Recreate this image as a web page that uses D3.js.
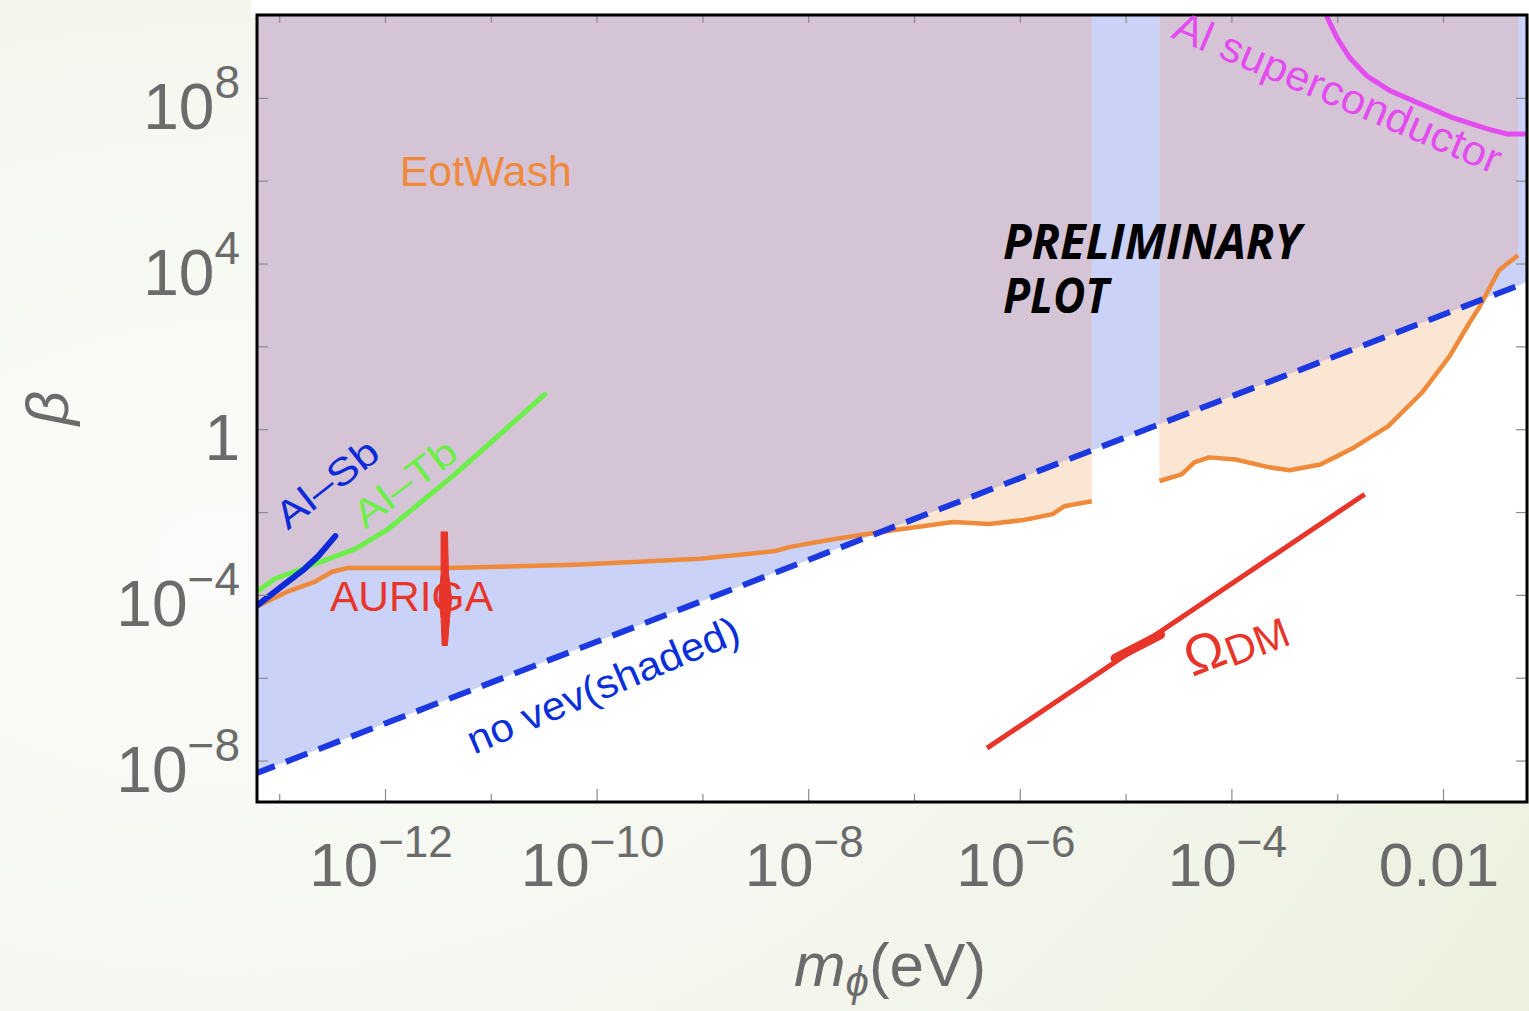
<!DOCTYPE html>
<html><head><meta charset="utf-8">
<script src="https://cdn.jsdelivr.net/npm/d3@7"></script>
<style>
body{margin:0;overflow:hidden;background:#f4f6ee}
text{font-family:"Liberation Sans",Arial,Helvetica,sans-serif}
</style>
</head><body>
<svg id="c" width="1529" height="1011"></svg>
<script>
// ---------- data (log10 of m_phi [eV], log10 of beta) ----------
const xDomainExp = [-13.21, -1.206];
const yDomainExp = [-9, 10];

const xTickExps   = [-13,-12,-11,-10,-9,-8,-7,-6,-5,-4,-3,-2];
const xLabelExps  = [-12,-10,-8,-6,-4,-2];
const xLabelBases = ["10","10","10","10","10","0.01"];
const xLabelSups  = ["\u221212","\u221210","\u22128","\u22126","\u22124",""];

const yTickExps   = [-8,-6,-4,-2,0,2,4,6,8];
const yLabelExps  = [8,4,0,-4,-8];
const yLabelBases = ["10","10","1","10","10"];
const yLabelSups  = ["8","4","","\u22124","\u22128"];

// "no vev" line (dashed)
const noVevLine = [[-13.21,-8.30],[-1.206,3.55]];

// EotWash boundary, two pieces
const eotWashLeft = [
  [-13.21,-4.28],[-12.92,-3.92],[-12.66,-3.68],[-12.50,-3.44],[-12.35,-3.35],
  [-11.39,-3.35],[-10.20,-3.27],[-9.02,-3.13],[-8.31,-2.94],[-8.17,-2.84],
  [-7.79,-2.67],[-7.32,-2.48],[-6.97,-2.36],[-6.63,-2.24],[-6.29,-2.29],
  [-5.96,-2.19],[-5.69,-2.05],[-5.58,-1.86],[-5.32,-1.74]
];
const eotWashRight = [
  [-4.68,-1.25],[-4.47,-1.09],[-4.35,-0.80],[-4.21,-0.68],[-3.96,-0.73],
  [-3.64,-0.92],[-3.45,-0.99],[-3.16,-0.85],[-3.00,-0.65],[-2.84,-0.44],
  [-2.52,0.07],[-2.20,0.88],[-1.94,1.75],[-1.75,2.57],[-1.66,2.93],
  [-1.57,3.36],[-1.47,3.84],[-1.29,4.20]
];

const alSb = [[-13.21,-4.26],[-12.97,-3.78],[-12.76,-3.37],[-12.63,-3.06],[-12.47,-2.58]];
const alTb = [[-13.21,-3.92],[-13.04,-3.61],[-12.73,-3.32],[-12.28,-2.89],[-11.97,-2.41],[-11.34,-1.09],[-10.49,0.84]];

const alSuper = [[-3.11,10.1],[-3.09,9.92],[-3.00,9.44],[-2.88,8.96],[-2.72,8.53],[-2.50,8.17],
  [-2.22,7.86],[-1.91,7.52],[-1.58,7.25],[-1.40,7.13],[-1.21,7.13]];

// AURIGA resonance outline
const auriga = [[-11.47,-2.48],[-11.41,-2.48],[-11.40,-3.49],[-11.37,-4.09],[-11.39,-4.57],
  [-11.41,-5.22],[-11.46,-5.22],[-11.47,-4.57],[-11.49,-4.09],[-11.47,-3.49]];

const omegaDM = [[-6.31,-7.70],[-2.74,-1.57]];
const omegaDMThick = [[-5.10,-5.53],[-4.67,-4.96]];

// ---------- layout ----------
const W = 1529, H = 1011;
const L = 257, R = 1527, T = 15, B = 802;

const svg = d3.select("#c");
const x = d3.scaleLog().domain(xDomainExp.map(e=>10**e)).range([L,R]);
const y = d3.scaleLog().domain(yDomainExp.map(e=>10**e)).range([B,T]);
const px = d => x(10**d[0]), py = d => y(10**d[1]);

const defs = svg.append("defs");
const rg = defs.append("radialGradient").attr("id","bg")
  .attr("cx","0.15").attr("cy","0.55").attr("r","1.0");
rg.append("stop").attr("offset","0").attr("stop-color","#fbfcf9");
rg.append("stop").attr("offset","0.55").attr("stop-color","#f4f6ee");
rg.append("stop").attr("offset","1").attr("stop-color","#ebf0dc");

svg.append("rect").attr("width",W).attr("height",H).attr("fill","url(#bg)");
svg.append("rect").attr("x",251).attr("y",0).attr("width",W-251).attr("height",T+2).attr("fill","#ffffff");

defs.append("clipPath").attr("id","plotClip").append("rect")
  .attr("x",L).attr("y",T).attr("width",R-L).attr("height",B-T);

const areaTop = d3.area().x(px).y0(T-5).y1(py);
const line = d3.line().x(px).y(py);

defs.append("clipPath").attr("id","blueClip").append("path").attr("d", areaTop(noVevLine));

const g = svg.append("g").attr("clip-path","url(#plotClip)");
g.append("rect").attr("x",L).attr("y",T).attr("width",R-L).attr("height",B-T).attr("fill","#ffffff");

// regions
g.append("path").attr("d", areaTop(noVevLine)).attr("fill","#cad2f8");
[eotWashLeft, eotWashRight].forEach(s=>{
  g.append("path").attr("d", areaTop(s)).attr("fill","#fbe5d3");
});
const gp = g.append("g").attr("clip-path","url(#blueClip)");
[eotWashLeft, eotWashRight].forEach(s=>{
  gp.append("path").attr("d", areaTop(s)).attr("fill","#d4c4d6");
});

// curves
[eotWashLeft, eotWashRight].forEach(s=>{
  g.append("path").attr("d", line(s)).attr("fill","none").attr("stroke","#ee8a3a")
    .attr("stroke-width",4.5).attr("stroke-linejoin","round");
});
g.append("path").attr("d", line(noVevLine)).attr("fill","none").attr("stroke","#1c38e0")
  .attr("stroke-width",6).attr("stroke-dasharray","23,12").attr("stroke-dashoffset",4);
g.append("path").attr("d", line(alTb)).attr("fill","none").attr("stroke","#6cef48")
  .attr("stroke-width",5).attr("stroke-linecap","round").attr("stroke-linejoin","round");
g.append("path").attr("d", line(alSb)).attr("fill","none").attr("stroke","#0c2bd6")
  .attr("stroke-width",6).attr("stroke-linecap","round").attr("stroke-linejoin","round");
g.append("path").attr("d", line(alSuper)).attr("fill","none").attr("stroke","#e44cf0")
  .attr("stroke-width",5).attr("stroke-linejoin","round");
g.append("path").attr("d", line(auriga)+"Z").attr("fill","#e8352a").attr("stroke","#e8352a").attr("stroke-width",1);
g.append("path").attr("d", line(omegaDM)).attr("fill","none").attr("stroke","#e8352a").attr("stroke-width",5);
g.append("path").attr("d", line(omegaDMThick)).attr("fill","none").attr("stroke","#e8352a")
  .attr("stroke-width",9).attr("stroke-linecap","round");

// axes (ticks inside)
const tickCol = "#8a8a8a";
function styleAxis(sel){
  sel.select(".domain").remove();
  sel.selectAll(".tick line").attr("stroke",tickCol).attr("stroke-width",1.2);
}
const xb = svg.append("g").attr("transform",`translate(0,${B})`)
  .call(d3.axisBottom(x).tickValues(xTickExps.map(e=>10**e)).tickFormat("").tickSizeOuter(0));
styleAxis(xb);
xb.selectAll(".tick line").attr("y2", d => xLabelExps.includes(Math.round(Math.log10(d))) ? -13 : -8);
const xt = svg.append("g").attr("transform",`translate(0,${T})`)
  .call(d3.axisTop(x).tickValues(xTickExps.map(e=>10**e)).tickFormat("").tickSizeOuter(0));
styleAxis(xt);
xt.selectAll(".tick line").attr("y2", 8);
const yl = svg.append("g").attr("transform",`translate(${L},0)`)
  .call(d3.axisLeft(y).tickValues(yTickExps.map(e=>10**e)).tickFormat("").tickSizeOuter(0));
styleAxis(yl);
yl.selectAll(".tick line").attr("x2", 11);
const yr = svg.append("g").attr("transform",`translate(${R},0)`)
  .call(d3.axisRight(y).tickValues(yTickExps.map(e=>10**e)).tickFormat("").tickSizeOuter(0));
styleAxis(yr);
yr.selectAll(".tick line").attr("x2", -11);

// frame
svg.append("rect").attr("x",L).attr("y",T).attr("width",R-L).attr("height",B-T)
  .attr("fill","none").attr("stroke","#000").attr("stroke-width",3);

// tick labels
const labCol = "#6b6b6b";
xLabelExps.forEach((e,i)=>{
  const t = svg.append("text").attr("x", x(10**e)-4).attr("y", 886)
    .attr("text-anchor","middle").attr("fill",labCol).attr("font-size",62);
  t.append("tspan").text(xLabelBases[i]);
  if (xLabelSups[i]) t.append("tspan").attr("dy",-29).attr("font-size",44).text(xLabelSups[i]);
});
yLabelExps.forEach((e,i)=>{
  const t = svg.append("text").attr("x", 240).attr("y", y(10**e)+31)
    .attr("text-anchor","end").attr("fill",labCol).attr("font-size",64);
  t.append("tspan").text(yLabelBases[i]);
  if (yLabelSups[i]) t.append("tspan").attr("dy",-31).attr("font-size",46).text(yLabelSups[i]);
});

// axis titles
const xt2 = svg.append("text").attr("x",890).attr("y",986).attr("text-anchor","middle")
  .attr("fill",labCol).attr("font-size",62);
xt2.append("tspan").attr("font-style","italic").text("m");
xt2.append("tspan").attr("font-style","italic").attr("font-size",42).attr("dy",10).text("\u03d5");
xt2.append("tspan").attr("dy",-10).text("(eV)");
svg.append("text").attr("transform","translate(68,408) rotate(-90)").attr("text-anchor","middle")
  .attr("fill",labCol).attr("font-size",60).attr("font-style","italic").text("\u03b2");

// annotations (positioned through the scales)
function ann(xe, ye, txt, opts){
  const t = svg.append("text")
    .attr("transform", `translate(${x(10**xe)},${y(10**ye)}) rotate(${opts.rot||0})`)
    .attr("fill", opts.fill).attr("font-size", opts.size)
    .attr("text-anchor", opts.anchor||"start").text(txt);
  if (opts.len) t.attr("textLength", opts.len).attr("lengthAdjust","spacingAndGlyphs");
  if (opts.style) t.attr("font-style", opts.style);
  if (opts.weight) t.attr("font-weight", opts.weight);
  if (opts.family) t.style("font-family", opts.family);
  return t;
}
ann(-11.86, 5.88, "EotWash", {fill:"#ef8a3c", size:42, len:172});
ann(-12.52, -4.38, "AURIGA", {fill:"#e8352a", size:42, len:163});
ann(-12.92, -2.45, "Al\u2013Sb", {fill:"#0c2bd6", size:38, rot:-38, len:120});
ann(-12.19, -2.42, "Al\u2013Tb", {fill:"#6cef48", size:38, rot:-37, len:120});
ann(-11.16, -7.86, "no vev(shaded)", {fill:"#0a2fd8", size:40, rot:-23, len:292});
ann(-4.58, 9.47, "Al superconductor", {fill:"#e44cf0", size:42, rot:23, len:352});
ann(-6.16, 4.12, "PRELIMINARY", {fill:"#000", size:48, style:"italic", weight:"bold", len:298, family:"'Open Sans','Liberation Sans',sans-serif"});
ann(-6.16, 2.80, "PLOT", {fill:"#000", size:48, style:"italic", weight:"bold", len:106, family:"'Open Sans','Liberation Sans',sans-serif"});
const om = ann(-4.37, -5.98, "", {fill:"#e8352a", size:54, rot:-21});
om.append("tspan").text("\u03a9");
om.append("tspan").attr("font-size",42).attr("dy",5).text("DM");
</script>
</body></html>
